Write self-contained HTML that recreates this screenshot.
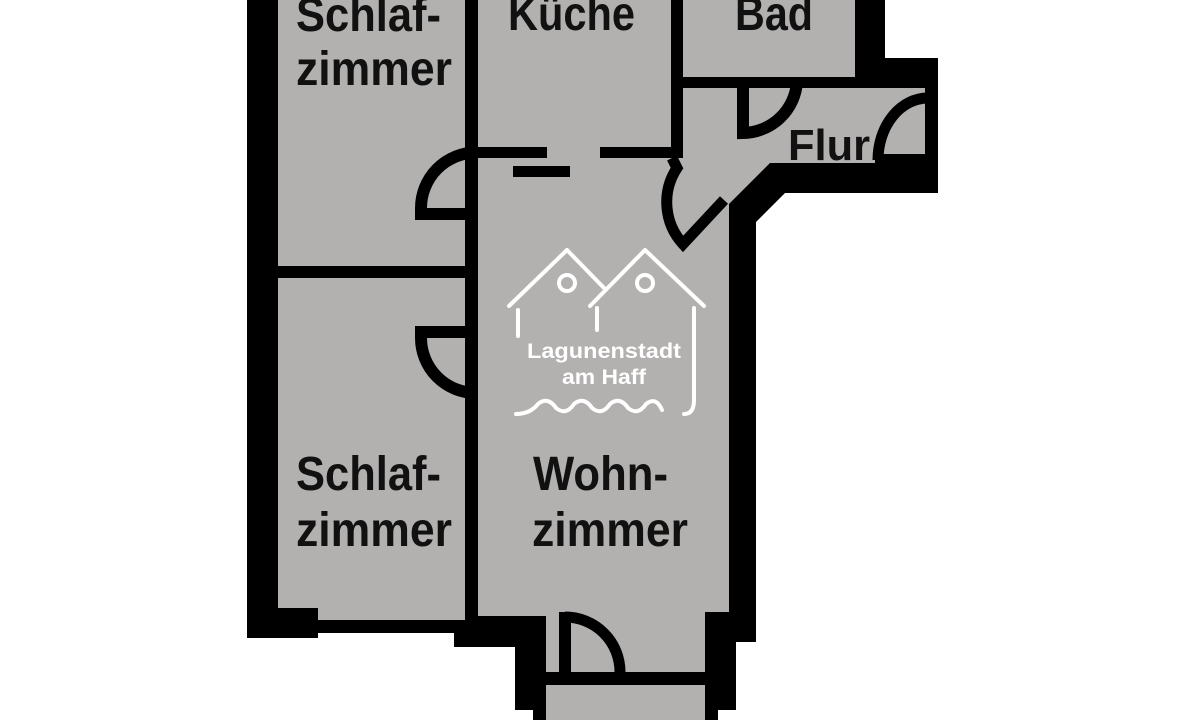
<!DOCTYPE html>
<html><head><meta charset="utf-8"><style>
html,body{margin:0;padding:0;background:#fff;}
svg{display:block}
.t{font-family:"Liberation Sans",sans-serif;font-weight:bold;font-size:48px;fill:#111;}
</style></head><body>
<svg width="1200" height="720" viewBox="0 0 1200 720" xmlns="http://www.w3.org/2000/svg">
<polygon fill="#000" points="247,0 885,0 885,58 938,58 938,193 785,193 756,222 756,642 736,642 736,710 718,710 718,720 533,720 533,710 515,710 515,647 454,647 454,633 318,633 318,638 247,638"/>
<g fill="#b3b1b0">
<rect x="278" y="0" width="187" height="266"/>
<polygon points="278,278 465,278 465,620 318,620 318,608 278,608"/>
<rect x="478" y="0" width="193" height="147"/>
<rect x="683" y="0" width="172" height="77"/>
<polygon points="683,88 925,88 925,163 770,163 729,204 729,219 683,219"/>
<polygon points="478,147 683,147 683,160 729,160 729,612 705,612 705,685 546,685 546,616 478,616"/>
<rect x="546" y="685" width="159" height="35"/>
</g>
<g fill="#000">
<rect x="465" y="147" width="82" height="11"/>
<rect x="600" y="147" width="83" height="11"/>
<rect x="513" y="166" width="57" height="11"/>
<rect x="671" y="0" width="12" height="158"/>
<rect x="465" y="0" width="13" height="158"/>
<rect x="465" y="208" width="13" height="124"/>
<rect x="465" y="388" width="13" height="230"/>
<rect x="278" y="266" width="190" height="12"/>
<rect x="683" y="77" width="62" height="11"/>
<rect x="797" y="77" width="58" height="11"/>
<rect x="546" y="672" width="159" height="13"/>
<rect x="559" y="612" width="12" height="64"/>
<rect x="875" y="154" width="50" height="9"/>
</g>
<g fill="none" stroke="#000" stroke-width="12">
<path d="M476 152.5 A55.5 55.5 0 0 0 421 208 L421 214 L470 214"/>
<path d="M470 332 L421 332 L421 338 A55 55 0 0 0 476 393"/>
<path d="M743 80 L743 133 A55 55 0 0 0 797 82"/>
<path d="M878 160 A50 62 0 0 1 928 98" stroke-width="11"/>
<path d="M565 617 A55 55 0 0 1 620 672" stroke-width="11"/>
<path d="M672 158 L677 168 A62 62 0 0 0 683 244 L724 200" stroke-width="11"/>
</g>
<text class="t" x="296" y="31" textLength="145" lengthAdjust="spacingAndGlyphs">Schlaf-</text>
<text class="t" x="296" y="85" textLength="156" lengthAdjust="spacingAndGlyphs">zimmer</text>
<text class="t" x="508" y="30" textLength="127" lengthAdjust="spacingAndGlyphs">Küche</text>
<text class="t" x="735" y="30" textLength="78" lengthAdjust="spacingAndGlyphs">Bad</text>
<text class="t" x="788" y="160" textLength="82" lengthAdjust="spacingAndGlyphs" style="font-size:44px">Flur</text>
<text class="t" x="296" y="490" textLength="145" lengthAdjust="spacingAndGlyphs">Schlaf-</text>
<text class="t" x="296" y="546" textLength="156" lengthAdjust="spacingAndGlyphs">zimmer</text>
<text class="t" x="533" y="490" textLength="135" lengthAdjust="spacingAndGlyphs">Wohn-</text>
<text class="t" x="532" y="546" textLength="156" lengthAdjust="spacingAndGlyphs">zimmer</text>
<g fill="none" stroke="#fff" stroke-width="4" stroke-linecap="round" stroke-linejoin="round">
<path d="M509 306 L567 250 L604 288"/>
<path d="M590 306 L645 250 L704 306"/>
<line x1="518" y1="310" x2="518" y2="336"/>
<line x1="597" y1="308" x2="597" y2="330"/>
<path d="M694 308 L694 400 Q694 414 684 414"/>
<circle cx="567" cy="283" r="8"/>
<circle cx="645" cy="283" r="8"/>
<path d="M516 414 Q530 414 538 404 Q548 396 556 408 Q566 416 574 404 Q584 396 592 408 Q602 416 610 404 Q620 396 628 408 Q638 416 646 404 Q656 396 662 410"/>
</g>
<text x="527" y="358" fill="#fff" style="font-family:'Liberation Sans',sans-serif;font-weight:bold;font-size:21px" textLength="154" lengthAdjust="spacingAndGlyphs">Lagunenstadt</text>
<text x="562" y="384" fill="#fff" style="font-family:'Liberation Sans',sans-serif;font-weight:bold;font-size:21px" textLength="84" lengthAdjust="spacingAndGlyphs">am Haff</text>
</svg>
</body></html>
